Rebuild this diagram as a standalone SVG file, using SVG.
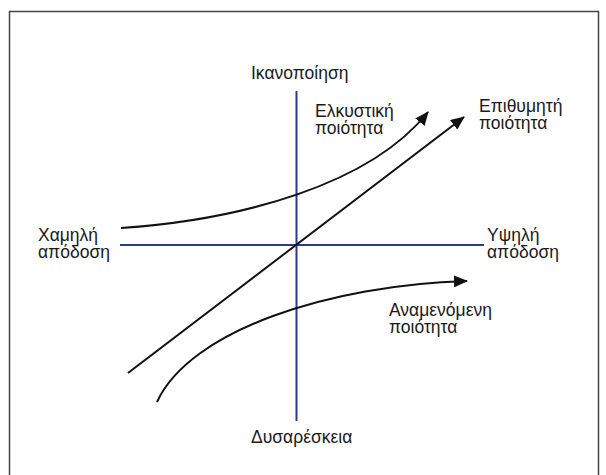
<svg xmlns="http://www.w3.org/2000/svg" width="606" height="475" viewBox="0 0 606 475">
<style>
.t{font-family:"Liberation Sans",Arial,sans-serif;font-size:17.5px;fill:#1a1a1a}
.ax{stroke:#2a3a8f;stroke-width:2;fill:none}
.c{stroke:#111;stroke-width:2;fill:none}
</style>
<defs>
<marker id="ah" viewBox="0 0 14 12" refX="13" refY="6" markerWidth="14" markerHeight="12" markerUnits="userSpaceOnUse" orient="auto">
<path d="M0,0 L14,6 L0,12 Z" fill="#111"/>
</marker>
</defs>
<rect x="0" y="0" width="606" height="475" fill="#fff"/>
<path d="M9.5,480 V11.5 H598.5 V480" fill="none" stroke="#444" stroke-width="1.5"/>
<g id="axes">
<line class="ax" x1="296.5" y1="91" x2="296.5" y2="421"/>
<line class="ax" x1="120" y1="245" x2="484" y2="245"/>
</g>
<g id="connectors">
<path class="c" d="M121,228 C240,220 370,185 428,112" marker-end="url(#ah)"/>
<path class="c" d="M128,373 L464,117" marker-end="url(#ah)"/>
<path class="c" d="M157,402 C190,330 330,285 467,281" marker-end="url(#ah)"/>
</g>
<g id="label-top"><text class="t" x="251" y="79">Ικανοποίηση</text></g>
<g id="label-bottom"><text class="t" x="251" y="443">Δυσαρέσκεια</text></g>
<g id="label-left"><text class="t" x="38" y="240.5">Χαμηλή</text><text class="t" x="38" y="258">απόδοση</text></g>
<g id="label-right"><text class="t" x="487" y="240.5">Υψηλή</text><text class="t" x="487" y="258">απόδοση</text></g>
<g id="label-attractive"><text class="t" x="315" y="116.5">Ελκυστική</text><text class="t" x="315" y="134">ποιότητα</text></g>
<g id="label-desired"><text class="t" x="479" y="111.5">Επιθυμητή</text><text class="t" x="479" y="129">ποιότητα</text></g>
<g id="label-expected"><text class="t" x="389" y="315.5">Αναμενόμενη</text><text class="t" x="389" y="333">ποιότητα</text></g>
</svg>
